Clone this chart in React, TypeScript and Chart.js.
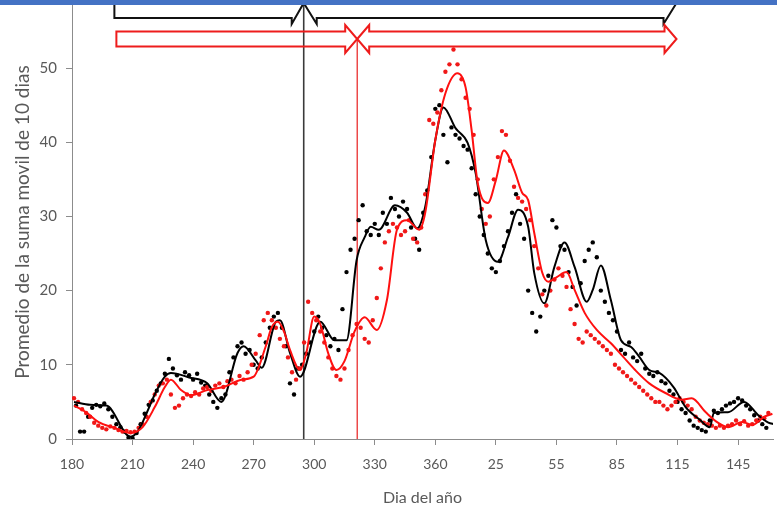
import React, { useEffect, useRef } from 'react';
import { Chart, registerables } from 'chart.js';

Chart.register(...registerables);

// x tick positions (day index, continuing past 365) and their labels
const xTickValues = [180, 210, 240, 270, 300, 330, 360, 390, 420, 450, 480, 510];
const xTickLabels = ['180', '210', '240', '270', '300', '330', '360', '25', '55', '85', '115', '145'];
const yTickValues = [0, 10, 20, 30, 40, 50];

// black series: daily points
const blackDotDays = [
  182, 184, 186, 188, 190, 192, 194, 196, 198, 200, 202, 204, 206, 208, 210, 212, 214, 216, 218, 220,
  222, 224, 226, 228, 230, 232, 234, 236, 238, 240, 242, 244, 246, 248, 250, 252, 254, 256, 258, 260,
  262, 264, 266, 268, 270, 272, 274, 276, 278, 280, 282, 284, 286, 288, 290, 292, 294, 296, 298, 300,
  302, 304, 306, 308, 310, 312, 314, 316, 318, 320, 322, 324, 326, 328, 330, 332, 334, 336, 338, 340,
  342, 344, 346, 348, 350, 352, 354, 356, 358, 360, 362, 364, 366, 368, 370, 372, 374, 376, 378, 380,
  382, 384, 386, 388, 390, 392, 394, 396, 398, 400, 402, 404, 406, 408, 410, 412, 414, 416, 418, 420,
  422, 424, 426, 428, 430, 432, 434, 436, 438, 440, 442, 444, 446, 448, 450, 452, 454, 456, 458, 460,
  462, 464, 466, 468, 470, 472, 474, 476, 478, 480, 482, 484, 486, 488, 490, 492, 494, 496, 498, 500,
  502, 504, 506, 508, 510, 512, 514, 516, 518, 520, 522, 524,
];
const blackDotVals = [
  4.5, 1.0, 1.0, 3.0, 4.2, 4.6, 4.4, 4.8, 4.0, 3.0, 2.0, 1.6, 1.0, 0.2, 0.1, 0.8, 2.0, 3.4, 4.6, 5.2,
  6.5, 7.5, 8.8, 10.8, 9.5, 8.6, 8.0, 9.0, 8.6, 8.0, 8.8, 7.6, 7.2, 6.0, 5.0, 4.2, 5.5, 6.0, 9.0, 11.0,
  12.5, 13.0, 11.5, 12.0, 10.0, 9.5, 11.0, 13.0, 15.0, 16.5, 17.0, 15.0, 12.5, 7.5, 6.0, 9.5, 10.0, 11.5, 13.0, 14.5,
  16.5, 15.0, 14.0, 12.5, 13.5, 12.0, 17.5, 22.5, 25.5, 27.0, 29.5, 31.5, 28.0, 27.5, 29.0, 27.5, 30.5, 29.0, 32.5, 31.0,
  30.0, 32.0, 31.0, 28.5, 27.0, 25.5, 30.5, 33.5, 38.0, 44.5, 45.0, 41.0, 37.3, 42.0, 41.0, 40.5, 39.5, 39.0, 36.5, 33.0,
  30.0, 27.5, 25.0, 23.0, 22.5, 24.0, 26.0, 28.0, 30.5, 33.0, 29.0, 27.0, 20.0, 17.0, 14.5, 16.5, 20.0, 22.0, 29.5, 28.5,
  26.0, 25.5, 22.5, 20.5, 18.0, 21.0, 24.0, 25.5, 26.5, 24.5, 20.0, 18.5, 17.0, 16.0, 14.5, 12.0, 11.5, 13.0, 11.0, 10.5,
  11.5, 9.5, 8.8, 8.5, 9.0, 7.8, 7.5, 6.5, 6.0, 5.0, 4.0, 3.5, 2.5, 1.8, 1.5, 1.2, 1.0, 2.5, 3.8, 3.5,
  4.0, 4.5, 4.8, 5.0, 5.5, 5.2, 4.5, 4.0, 3.2, 2.5, 2.0, 1.5,
];

// black series: smoothed curve
const blackLineDays = [
  181, 189, 197, 209, 213, 217, 221, 226, 229, 238, 247, 254, 262, 265, 271, 274, 281, 283, 288, 293,
  303, 310, 316, 321, 325, 328, 332, 340, 346, 351, 355, 360, 364, 370, 376, 380, 385, 391, 396, 401,
  406, 409, 414, 419, 424, 429, 435, 438, 442, 447, 452, 457, 461, 466, 471, 478, 484, 491, 496, 498,
  505, 513, 520, 525, 528,
];
const blackLineVals = [
  5.0, 4.6, 4.5, 0.3, 1.2, 3.5, 6.0, 8.4, 8.9, 8.3, 7.5, 5.0, 11.6, 12.5, 10.6, 9.6, 15.8, 16.0, 11.6, 8.4,
  15.8, 13.3, 13.3, 24.1, 27.2, 28.6, 28.2, 31.5, 30.5, 28.4, 31.3, 40.3, 44.7, 41.9, 39.9, 35.8, 26.8, 23.9, 27.2, 30.9,
  28.6, 22.4, 18.3, 23.2, 26.5, 23.2, 18.5, 20.1, 23.4, 18.7, 13.3, 12.4, 11.1, 9.3, 8.9, 7.0, 4.3, 2.6, 1.6, 3.5,
  3.6, 5.0, 3.2, 2.2, 2.0,
];

// red series: daily points
const redDotDays = [
  181, 183, 185, 187, 189, 191, 193, 195, 197, 199, 201, 203, 205, 207, 209, 211, 213, 215, 217, 219,
  221, 223, 225, 227, 229, 231, 233, 235, 237, 239, 241, 243, 245, 247, 249, 251, 253, 255, 257, 259,
  261, 263, 265, 267, 269, 271, 273, 275, 277, 279, 281, 283, 285, 287, 289, 291, 293, 295, 297, 299,
  301, 303, 305, 307, 309, 311, 313, 315, 317, 319, 321, 323, 325, 327, 329, 331, 333, 335, 337, 339,
  341, 343, 345, 347, 349, 351, 353, 355, 357, 359, 361, 363, 365, 367, 369, 371, 373, 375, 377, 379,
  381, 383, 385, 387, 389, 391, 393, 395, 397, 399, 401, 403, 405, 407, 409, 411, 413, 415, 417, 419,
  421, 423, 425, 427, 429, 431, 433, 435, 437, 439, 441, 443, 445, 447, 449, 451, 453, 455, 457, 459,
  461, 463, 465, 467, 469, 471, 473, 475, 477, 479, 481, 483, 485, 487, 489, 491, 493, 495, 497, 499,
  501, 503, 505, 507, 509, 511, 513, 515, 517, 519, 521, 523, 525,
];
const redDotVals = [
  5.5, 5.0, 4.0, 3.5, 3.0, 2.2, 1.8, 1.5, 1.3, 1.7, 1.5, 1.2, 1.0, 1.1, 0.9, 1.0, 1.5, 2.0, 3.0, 5.0,
  6.0, 7.2, 7.5, 8.0, 6.0, 4.2, 4.5, 5.5, 6.0, 5.8, 6.3, 6.0, 6.8, 7.0, 6.5, 7.2, 7.5, 7.0, 7.8, 8.0,
  7.5, 8.5, 8.0, 9.0, 10.0, 11.5, 14.0, 16.0, 17.0, 16.0, 15.0, 13.5, 12.5, 11.0, 9.0, 8.0, 9.5, 13.0, 18.5, 17.0,
  16.0, 14.5, 13.0, 11.0, 9.5, 8.5, 8.0, 9.5, 12.0, 14.0, 15.5, 15.0, 13.5, 13.0, 16.0, 19.0, 23.0, 26.5, 28.0, 29.0,
  28.5, 27.5, 28.0, 29.5, 27.0, 26.5, 28.5, 33.0, 43.0, 42.5, 44.0, 47.0, 49.5, 50.5, 52.5, 50.5, 48.5, 46.0, 44.5, 41.0,
  35.0, 31.0, 29.0, 30.0, 35.0, 38.0, 41.5, 41.0, 37.5, 34.0, 32.5, 32.0, 31.0, 29.5, 26.0, 23.0, 19.5, 18.0, 20.0, 21.5,
  23.0, 22.0, 20.5, 17.5, 15.5, 13.5, 13.0, 14.5, 14.0, 13.5, 13.0, 12.5, 12.0, 11.5, 10.0, 9.5, 9.0, 8.5, 8.0, 7.5,
  7.0, 6.5, 6.0, 5.5, 5.0, 5.0, 4.5, 4.0, 4.5, 5.0, 5.5, 5.0, 4.5, 4.0, 3.0, 2.5, 2.2, 2.0, 1.8, 1.5,
  1.8, 1.5, 1.8, 2.0, 2.5, 2.0, 2.4, 1.8, 2.0, 2.5, 3.0, 2.8, 3.5,
];

// red series: smoothed curve
const redLineDays = [
  181, 187, 193, 201, 209, 215, 221, 226, 229, 234, 239, 247, 255, 264, 270, 276, 279, 282, 285, 288,
  293, 296, 300, 303, 307, 311, 315, 320, 325, 331, 336, 341, 346, 352, 355, 360, 365, 371, 375, 378,
  381, 386, 390, 394, 399, 403, 406, 409, 413, 416, 420, 425, 429, 434, 440, 447, 453, 459, 466, 474,
  482, 487, 494, 500, 505, 512, 517, 523, 527,
];
const redLineVals = [
  4.5, 3.6, 2.3, 1.5, 0.8, 1.6, 4.3, 7.0, 8.0, 6.6, 5.9, 6.6, 7.0, 8.0, 8.4, 12.5, 15.1, 15.8, 14.5, 12.0,
  9.3, 11.5, 16.5, 15.5, 11.5, 9.3, 10.5, 14.5, 16.4, 14.7, 18.7, 28.2, 29.5, 28.2, 30.5, 40.3, 46.6, 49.3, 47.4, 41.6,
  34.5, 31.8, 34.9, 38.9, 36.3, 33.2, 32.2, 27.8, 22.4, 21.2, 21.8, 22.5, 20.1, 17.0, 14.7, 12.9, 11.1, 9.3, 7.5, 6.2,
  5.3, 5.5, 3.6, 2.2, 1.6, 2.3, 1.9, 3.0, 3.4,
];

// period markers (days)
const blackMarkDay = 294.8;
const redMarkDay = 321.3;
const arrowStartDay = 201;
const blackArrowEndDay = 479.5;
const redArrowEndDay = 479.5;

const FONT = 'Lato, "Liberation Sans", Arial, sans-serif';
const TEXT = '#595959';
const AXIS = '#8c8c8c';

function toPts(days: number[], vals: number[]) {
  return days.map((d, i) => ({ x: d, y: vals[i] }));
}

function rightArrow(ctx: CanvasRenderingContext2D, xL: number, xT: number, cy: number, bh: number, hh: number, hl: number) {
  ctx.beginPath();
  ctx.moveTo(xL, cy - bh);
  ctx.lineTo(xT - hl, cy - bh);
  ctx.lineTo(xT - hl, cy - hh);
  ctx.lineTo(xT, cy);
  ctx.lineTo(xT - hl, cy + hh);
  ctx.lineTo(xT - hl, cy + bh);
  ctx.lineTo(xL, cy + bh);
  ctx.closePath();
  ctx.stroke();
}

function doubleArrow(ctx: CanvasRenderingContext2D, xA: number, xB: number, cy: number, bh: number, hh: number, hl: number) {
  ctx.beginPath();
  ctx.moveTo(xA, cy);
  ctx.lineTo(xA + hl, cy - hh);
  ctx.lineTo(xA + hl, cy - bh);
  ctx.lineTo(xB - hl, cy - bh);
  ctx.lineTo(xB - hl, cy - hh);
  ctx.lineTo(xB, cy);
  ctx.lineTo(xB - hl, cy + hh);
  ctx.lineTo(xB - hl, cy + bh);
  ctx.lineTo(xA + hl, cy + bh);
  ctx.lineTo(xA + hl, cy + hh);
  ctx.closePath();
  ctx.stroke();
}

const overlay = {
  id: 'overlay',
  beforeDatasetsDraw(chart: any) {
    const { ctx, scales, chartArea } = chart;
    const x = scales.x;
    ctx.save();
    const bx = x.getPixelForValue(blackMarkDay);
    ctx.strokeStyle = '#3a3a3a';
    ctx.lineWidth = 1.6;
    ctx.beginPath();
    ctx.moveTo(bx, 0);
    ctx.lineTo(bx, chartArea.bottom);
    ctx.stroke();
    const rx = x.getPixelForValue(redMarkDay);
    ctx.strokeStyle = '#e81c1c';
    ctx.lineWidth = 1.2;
    ctx.beginPath();
    ctx.moveTo(rx, 40);
    ctx.lineTo(rx, chartArea.bottom);
    ctx.stroke();
    ctx.restore();
  },
  afterDraw(chart: any) {
    const { ctx, scales } = chart;
    const x = scales.x;
    const xs = x.getPixelForValue(arrowStartDay);
    const bx = x.getPixelForValue(blackMarkDay);
    const rx = x.getPixelForValue(redMarkDay);
    const be = x.getPixelForValue(blackArrowEndDay);
    const re = x.getPixelForValue(redArrowEndDay);
    ctx.save();
    ctx.lineJoin = 'miter';
    // black arrows (upper halves hidden under top band)
    ctx.strokeStyle = '#111';
    ctx.lineWidth = 2;
    rightArrow(ctx, xs, bx, 3, 15, 21, 12);
    doubleArrow(ctx, bx, be, 3, 15, 21, 13);
    // red arrows
    ctx.strokeStyle = '#ee1c1c';
    ctx.lineWidth = 2;
    rightArrow(ctx, xs + 2, rx, 39, 7.5, 14, 12);
    doubleArrow(ctx, rx, re, 39, 7.5, 14, 12);
    // top band
    ctx.fillStyle = '#4472c4';
    ctx.fillRect(0, 0, chart.width, 5);
    ctx.restore();
  },
};

export default function App() {
  const ref = useRef<HTMLCanvasElement>(null);
  useEffect(() => {
    const canvas = ref.current;
    if (!canvas) return;
    const chart = new Chart(canvas, {
      type: 'scatter',
      data: {
        datasets: [
          {
            label: 'red curve',
            data: toPts(redLineDays, redLineVals),
            showLine: true,
            borderColor: '#ff1010',
            borderWidth: 2,
            pointRadius: 0,
            cubicInterpolationMode: 'monotone',
          } as any,
          {
            label: 'black curve',
            data: toPts(blackLineDays, blackLineVals),
            showLine: true,
            borderColor: '#000',
            borderWidth: 2,
            pointRadius: 0,
            cubicInterpolationMode: 'monotone',
          } as any,
          {
            label: 'red points',
            data: toPts(redDotDays, redDotVals),
            showLine: false,
            pointRadius: 2.2,
            pointBorderWidth: 0,
            backgroundColor: '#f01818',
            borderColor: '#f01818',
          },
          {
            label: 'black points',
            data: toPts(blackDotDays, blackDotVals),
            showLine: false,
            pointRadius: 2.2,
            pointBorderWidth: 0,
            backgroundColor: '#000',
            borderColor: '#000',
          },
        ],
      },
      options: {
        animation: false,
        responsive: false,
        devicePixelRatio: 1,
        layout: { padding: { top: 5, left: 0, right: 0, bottom: 0 } },
        plugins: { legend: { display: false }, tooltip: { enabled: false } },
        scales: {
          x: {
            type: 'linear',
            min: 180,
            max: 527.3,
            afterBuildTicks: (s: any) => {
              s.ticks = xTickValues.map((v) => ({ value: v }));
            },
            afterFit: (s: any) => {
              s.height = 71;
              s.paddingLeft = 0;
              s.paddingRight = 0;
            },
            ticks: {
              autoSkip: false,
              maxRotation: 0,
              padding: 11,
              color: TEXT,
              font: { family: FONT, size: 14 },
              callback: (v: any) => {
                const i = xTickValues.indexOf(Number(v));
                return i >= 0 ? xTickLabels[i] : '';
              },
            },
            grid: { drawOnChartArea: false, drawTicks: true, tickLength: 6, color: AXIS },
            border: { display: true, color: AXIS, width: 1 },
            title: {
              display: true,
              text: 'Dia del año',
              color: TEXT,
              font: { family: FONT, size: 16 },
              padding: { top: 4, bottom: 3 },
            },
          },
          y: {
            type: 'linear',
            min: 0,
            max: 58.5,
            afterBuildTicks: (s: any) => {
              s.ticks = yTickValues.map((v) => ({ value: v }));
            },
            afterFit: (s: any) => {
              s.width = 72;
              s.paddingTop = 0;
              s.paddingBottom = 0;
            },
            ticks: {
              padding: 9,
              color: TEXT,
              font: { family: FONT, size: 15 },
            },
            grid: { drawOnChartArea: false, drawTicks: true, tickLength: 6, color: AXIS },
            border: { display: true, color: AXIS, width: 1 },
            title: {
              display: true,
              text: 'Promedio de la suma movil de 10 dias',
              color: TEXT,
              font: { family: FONT, size: 19 },
              padding: { top: 11, bottom: 4 },
            },
          },
        },
      },
      plugins: [overlay],
    });
    return () => chart.destroy();
  }, []);
  return (
    <div style={{ position: 'absolute', left: 0, top: 0, width: 777, height: 510, background: '#fff' }}>
      <canvas ref={ref} width={777} height={510} style={{ display: 'block', width: 777, height: 510 }} />
    </div>
  );
}
